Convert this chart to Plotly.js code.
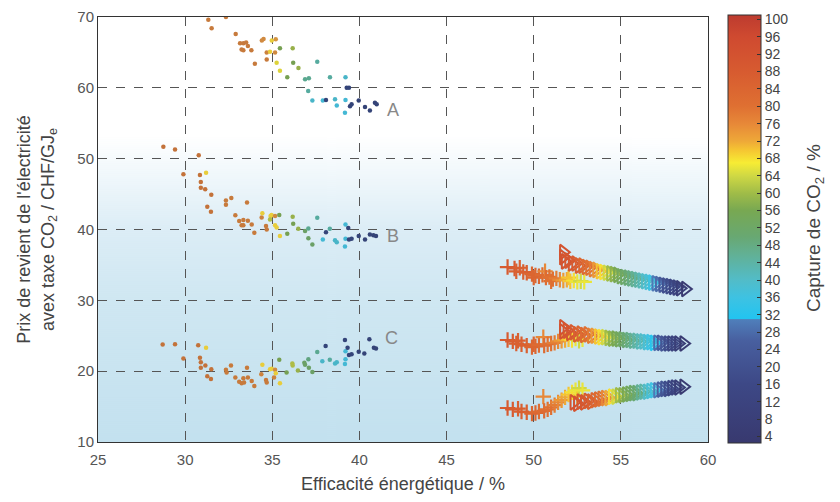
<!DOCTYPE html>
<html>
<head>
<meta charset="utf-8">
<script src="https://cdn.plot.ly/plotly-3.0.1.min.js"></script>
<style>html,body{margin:0;padding:0;background:#fff;}#chart{width:840px;height:502px;}</style>
</head>
<body>
<div id="chart"></div>
<script>
// ---- Series A (dots) ----
const aX = [31.33,32.34,31.52,32.9,33.15,33.34,33.5,33.6,33.24,33.34,33.8,34.0,34.4,34.5,34.68,34.68,34.87,34.97,35.2,35.16,35.25,35.44,35.44,36.17,36.2,36.5,35.86,36.88,37.1,37.58,38.31,39.2,37.06,39.27,39.4,37.3,37.9,38.08,38.6,38.7,39.2,39.17,39.46,39.55,39.96,40.32,40.6,40.89,40.99];
const aY = [69.6,70.0,68.4,67.6,66.3,66.3,66.4,65.9,65.4,65.3,65.3,63.4,66.7,66.9,65.0,64.0,65.1,66.7,66.85,65.0,63.55,62.4,65.6,65.6,63.55,62.8,61.5,61.2,61.35,63.7,61.5,61.5,59.55,60.0,60.0,58.2,58.2,58.3,58.4,57.5,58.3,56.5,57.4,57.7,58.2,57.3,56.8,57.9,57.7];
const aC = [80,80,80,80,80,80,80,80,80,80,80,80,76,76,78,80,68,68,74,76,66,66,56,60,56,60,56,46,46,44,44,38,44,12,12,38,36,12,38,36,36,36,12,12,10,10,10,10,10];
// ---- Series B (dots) ----
const bX = [28.75,29.42,30.78,29.9,30.85,31.2,30.9,30.9,31.15,31.5,31.27,31.48,32.34,32.34,32.65,33.55,32.88,33.1,33.34,33.6,33.24,33.34,33.82,33.97,34.39,34.43,34.64,34.68,34.9,34.96,35.16,34.87,35.4,35.16,35.25,35.44,35.86,36.17,36.2,36.49,36.88,37.07,37.07,37.3,37.58,37.9,38.08,38.3,38.6,38.7,39.2,39.2,39.17,39.36,39.4,39.55,39.96,40.32,40.6,40.8,40.95];
const bY = [51.7,51.3,50.5,47.8,47.7,48.0,46.7,45.9,45.7,44.9,43.2,42.5,44.1,43.5,44.45,43.8,42.0,41.2,41.35,41.25,40.6,40.6,40.7,39.55,41.7,42.3,40.5,40.0,41.9,42.05,41.9,41.4,42.05,40.6,40.3,39.1,39.4,41.8,40.8,40.1,39.8,40.15,38.75,37.9,41.66,38.6,39.6,40.1,38.5,38.2,40.7,38.7,37.6,40.2,38.6,38.7,39.1,38.6,39.3,39.2,39.1];
const bC = [84,84,84,84,84,68,84,84,84,84,84,84,80,80,80,80,80,80,80,80,80,80,80,80,78,68,80,80,68,68,76,62,56,68,68,68,56,60,56,60,52,46,52,52,44,36,12,44,38,38,36,36,36,12,12,12,10,10,10,10,10];
// ---- Series C (dots) ----
const cX = [28.71,29.42,30.75,31.2,29.9,30.85,30.9,31.16,30.9,31.5,31.27,31.48,32.34,32.38,32.63,33.55,32.88,33.1,33.24,33.38,33.34,33.6,33.82,33.97,34.37,34.43,34.64,34.68,34.87,34.97,35.16,35.2,35.1,35.44,35.4,35.82,36.15,36.17,36.47,36.84,36.88,37.07,37.1,37.3,37.58,37.87,38.06,38.3,38.6,38.7,39.17,39.2,39.2,39.17,39.32,39.4,39.55,39.96,40.28,40.57,40.83,40.95];
const cY = [23.75,23.8,23.65,23.3,21.8,21.9,21.25,20.8,20.5,20.26,19.3,18.9,20.2,19.8,20.8,20.5,19.1,18.5,18.3,18.4,19.0,19.1,18.6,17.9,19.55,20.9,18.75,18.4,20.26,20.35,20.2,19.7,19.1,18.3,21.6,19.8,21.1,20.8,20.1,21.2,20.9,21.7,20.5,19.9,22.7,21.4,23.55,21.6,21.1,21.25,24.4,22.8,21.7,21.0,23.3,22.3,22.4,22.75,22.5,24.5,23.3,23.2];
const cC = [84,84,84,68,84,84,84,84,84,84,84,84,80,80,80,80,80,80,80,80,80,80,80,80,78,68,80,80,68,68,76,68,78,68,56,56,62,62,60,52,52,48,52,52,46,38,12,44,38,38,12,36,36,36,12,12,12,10,10,10,10,10];

// ---- Right group 1 (+ and >) ----
const p1X = [48.5,48.9,49.0,49.2,49.4,49.6,49.9,50.0,50.1,50.3,50.5,50.65,50.7,50.9,51.0,51.1,51.3,51.5,51.7,51.9,52.0,52.1,52.3,52.5,52.7,52.9];
const p1Y = [34.7,34.5,34.1,34.6,34.0,33.9,33.7,33.2,33.5,33.4,33.6,34.1,33.2,33.3,32.7,33.0,33.1,32.9,32.8,32.9,33.2,32.7,32.8,32.6,32.7,32.6];
const p1C = [88,88,86,86,86,86,84,84,84,84,82,76,82,80,80,80,78,76,74,72,70,70,68,66,64,66];
const t1X = [51.7,51.7,51.8,52.0,52.2,52.4,52.6,52.8,53.0,53.2,53.4,53.6,53.8,54.0,54.2,54.4,54.6,54.8,55.0,55.2,55.4,55.6,55.8,56.0,56.2,56.4,56.6,56.8,57.0,57.2,57.4,57.6,57.8,58.0,58.2,58.4,58.7];
const t1Y = [36.8,36.1,35.5,35.6,35.2,35.2,34.9,34.9,34.7,34.6,34.4,34.3,34.1,34.0,33.9,33.8,33.7,33.6,33.4,33.3,33.2,33.1,33.0,32.9,32.8,32.7,32.6,32.5,32.4,32.3,32.2,32.1,32.0,31.9,31.8,31.7,31.6];
const t1C = [92,92,92,90,90,88,86,84,82,80,78,74,70,68,64,60,58,56,54,52,50,48,46,44,42,40,38,36,30,28,24,20,18,14,12,8,4];

// ---- Right group 2 ----
const p2X = [48.5,48.8,49.0,49.1,49.3,49.6,49.9,50.0,50.1,50.3,50.55,50.6,50.8,51.0,51.2,51.4,51.6,51.8,52.0,52.2,52.4,52.6,52.8];
const p2Y = [24.4,24.2,23.9,24.3,23.8,23.6,23.4,23.8,23.5,23.7,24.8,23.6,23.8,23.9,24.0,24.2,24.3,24.4,24.5,24.4,24.6,24.3,24.5];
const p2C = [88,88,86,86,86,86,84,84,84,82,76,82,80,80,78,76,74,72,70,68,66,64,66];
const t2X = [51.7,51.7,51.9,52.1,52.3,52.5,52.7,52.9,53.1,53.3,53.5,53.7,53.9,54.1,54.3,54.5,54.7,54.9,55.1,55.3,55.5,55.7,55.9,56.1,56.3,56.5,56.7,56.9,57.1,57.3,57.5,57.7,57.9,58.1,58.3,58.6];
const t2Y = [26.2,25.6,25.7,25.4,25.5,25.2,25.3,25.1,25.2,25.0,25.0,24.9,24.8,24.8,24.7,24.6,24.6,24.5,24.5,24.4,24.4,24.3,24.3,24.2,24.2,24.1,24.1,24.0,24.0,24.0,23.9,23.9,23.9,23.9,23.9,23.9];
const t2C = [92,92,90,90,88,86,84,82,80,78,74,70,68,64,60,58,56,54,52,50,48,46,44,42,40,38,36,32,28,24,22,18,14,12,8,4];

// ---- Right group 3 ----
const p3X = [48.5,48.8,49.1,49.3,49.6,49.9,50.1,50.3,50.55,50.6,50.8,51.0,51.2,51.4,51.6,51.8,52.0,52.2,52.4,52.5,52.6,52.8];
const p3Y = [14.8,14.6,14.7,14.3,14.2,14.0,14.1,14.3,16.4,14.4,14.6,14.9,15.2,15.6,15.9,16.3,16.7,17.0,17.3,16.4,17.6,17.3];
const p3C = [88,88,86,86,86,84,84,82,76,82,80,80,78,76,74,72,70,68,66,70,64,66];
const t3X = [52.3,52.5,52.7,52.9,53.1,53.3,53.5,53.7,53.9,54.1,54.3,54.5,54.7,54.9,55.1,55.3,55.5,55.7,55.9,56.1,56.3,56.5,56.7,56.9,57.1,57.3,57.5,57.7,57.9,58.1,58.3,58.6];
const t3Y = [15.6,15.4,15.7,15.6,15.8,15.7,15.9,16.0,16.1,16.2,16.2,16.4,16.4,16.6,16.6,16.7,16.8,16.9,16.9,17.0,17.1,17.1,17.2,17.3,17.3,17.4,17.5,17.5,17.6,17.7,17.7,17.8];
const t3C = [92,92,90,90,88,86,84,82,80,76,72,68,64,60,58,56,54,52,50,46,44,40,38,36,30,26,22,18,14,12,8,4];

const labelText = ["A","B","C"];
const labelX = [41.9, 41.9, 41.85];
const labelY = [56.9, 39.1, 24.7];

const xTickVals = [25,30,35,40,45,50,55,60];
const yTickVals = [10,20,30,40,50,60,70];

// ---- styling ----
const CMIN = 2.5, CMAX = 101;
function st(v){ return (v - CMIN) / (CMAX - CMIN); }
const colorscale = [
  [0, '#38396f'],
  [st(16), '#3d4886'],
  [st(26), '#485f9f'],
  [st(30.9), '#4f7fbb'],
  [st(31.1), '#22c4f0'],
  [st(36), '#3ec2e2'],
  [st(40), '#52bcc8'],
  [st(46), '#62b094'],
  [st(50), '#68a872'],
  [st(56), '#78a852'],
  [st(60), '#a0bc48'],
  [st(64), '#cfd844'],
  [st(67), '#f7ec34'],
  [st(70), '#f5c432'],
  [st(72), '#eea838'],
  [st(76), '#e78838'],
  [st(80), '#df7032'],
  [st(88), '#d75b30'],
  [st(96), '#cf4a30'],
  [1, '#bd3b2f']
];
// muted print-like tones used for the small dots
const dotScale = [
  [0, '#33406e'],
  [st(16), '#34457e'],
  [st(26), '#3f5a92'],
  [st(30.9), '#4b78aa'],
  [st(31.1), '#3ab8da'],
  [st(36), '#44b8d4'],
  [st(40), '#4eb2bc'],
  [st(46), '#5aa890'],
  [st(50), '#66a070'],
  [st(56), '#76a052'],
  [st(60), '#98b04a'],
  [st(64), '#c4c842'],
  [st(67), '#ead838'],
  [st(70), '#e4b640'],
  [st(72), '#daa042'],
  [st(76), '#d08a40'],
  [st(80), '#c77a3c'],
  [st(88), '#be6a38'],
  [st(96), '#b85c36'],
  [1, '#ae5034']
];

const FONT = 'Liberation Sans, Arial, sans-serif';

function mk(x, y, c, symbol, size, lw, showscale, scale) {
  const t = {
    type: 'scatter', mode: 'markers', x: x, y: y, hoverinfo: 'none',
    marker: {
      symbol: symbol, size: size, color: c, colorscale: scale || colorscale,
      cmin: CMIN, cmax: CMAX, showscale: !!showscale,
      line: {width: lw}
    },
    showlegend: false
  };
  if (showscale) {
    t.marker.colorscale = colorscale;
    t.marker.colorbar = {
      x: (728-98)/610, xanchor: 'left', xpad: 0, ypad: 0,
      y: (442-229)/425, yanchor: 'middle',
      len: 428/425, lenmode: 'fraction',
      thickness: 33, thicknessmode: 'pixels',
      outlinewidth: 1, outlinecolor: '#333',
      tick0: 4, dtick: 4, ticks: 'inside', ticklen: 4, tickcolor: '#333',
      tickfont: {family: FONT, size: 14, color: '#444'}
    };
  }
  return t;
}

const traces = [
  // invisible trace that carries the colour bar
  mk([null], [null], [50], 'circle', 1, 0, true),
  mk(aX, aY, aC, 'circle', 4.5, 0, false, dotScale),
  mk(bX, bY, bC, 'circle', 4.5, 0, false, dotScale),
  mk(cX, cY, cC, 'circle', 4.5, 0, false, dotScale),
  mk(p1X, p1Y, p1C, 'cross-thin-open', 11, 2.2, false),
  mk(p2X, p2Y, p2C, 'cross-thin-open', 11, 2.2, false),
  mk(p3X, p3Y, p3C, 'cross-thin-open', 11, 2.2, false),
  mk(t1X, t1Y, t1C, 'triangle-right-open', 13, 2, false),
  mk(t2X, t2Y, t2C, 'triangle-right-open', 13, 2, false),
  mk(t3X, t3Y, t3C, 'triangle-right-open', 13, 2, false)
];

// background gradient image
const cv = document.createElement('canvas');
cv.width = 4; cv.height = 425;
const ctx = cv.getContext('2d');
const g = ctx.createLinearGradient(0, 0, 0, 425);
g.addColorStop(0, '#ffffff');
g.addColorStop(0.28, '#ffffff');
g.addColorStop(0.38, '#eff7fb');
g.addColorStop(0.50, '#dcedf6');
g.addColorStop(0.67, '#cfe7f2');
g.addColorStop(1, '#c3e1ef');
ctx.fillStyle = g; ctx.fillRect(0, 0, 4, 425);
const bg = cv.toDataURL('image/png');

const axFont = {family: FONT, size: 15, color: '#555'};
const ttlFont = {family: FONT, size: 18, color: '#444'};

const layout = {
  width: 840, height: 502,
  margin: {l: 98, r: 132, t: 17, b: 60},
  paper_bgcolor: '#ffffff', plot_bgcolor: '#ffffff',
  xaxis: {
    range: [25, 60], tickvals: xTickVals, ticks: '', showline: true, mirror: true,
    linecolor: '#333', linewidth: 1, showgrid: true, gridcolor: '#555', griddash: 'dash', gridwidth: 1,
    zeroline: false, tickfont: axFont, ticklabelstandoff: 4,
    title: {text: 'Efficacité énergétique / %', font: ttlFont, standoff: 10}
  },
  yaxis: {
    range: [10, 70], tickvals: yTickVals, ticks: '', showline: true, mirror: true,
    linecolor: '#333', linewidth: 1, showgrid: true, gridcolor: '#555', griddash: 'dash', gridwidth: 1,
    zeroline: false, tickfont: axFont,
    title: {text: "Prix de revient de l'électricité<br>avex taxe CO<sub>2</sub> / CHF/GJ<sub>e</sub>", font: ttlFont, standoff: 18}
  },
  images: [{source: bg, xref: 'paper', yref: 'paper', x: 0, y: 1, sizex: 1, sizey: 1,
    sizing: 'stretch', xanchor: 'left', yanchor: 'top', layer: 'below'}],
  annotations: labelText.map((t, i) => ({
    text: t, x: labelX[i], y: labelY[i], xref: 'x', yref: 'y', showarrow: false,
    font: {family: FONT, size: 18, color: '#888'}
  })).concat([{
    text: 'Capture de CO<sub>2</sub> / %', xref: 'paper', yref: 'paper',
    x: (815-98)/610, y: (442-228)/425, xanchor: 'center', yanchor: 'middle',
    textangle: -90, showarrow: false, font: {family: FONT, size: 19, color: '#444'}
  }])
};

Plotly.newPlot('chart', traces, layout, {displayModeBar: false, staticPlot: true});
</script>
</body>
</html>
